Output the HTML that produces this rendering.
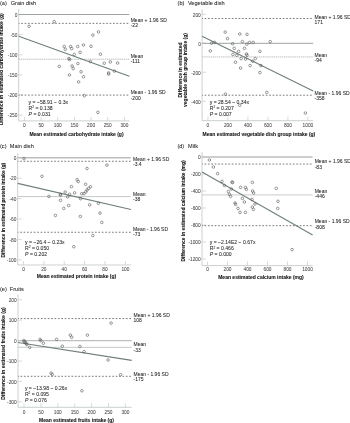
<!DOCTYPE html>
<html><head><meta charset="utf-8"><style>
html,body{margin:0;padding:0;background:#fff;width:350px;height:423px;overflow:hidden}
svg{display:block;filter:blur(0.3px)}
text{font-family:"Liberation Sans", sans-serif;fill:#262626;stroke:#262626;stroke-width:0.06px}
.tk{fill:#4a4a4a;stroke:#4a4a4a;stroke-width:0.05px}
.bl{fill:#151515;stroke:#151515;stroke-width:0.08px}
</style></head><body>
<svg width="350" height="423" viewBox="0 0 350 423">
<rect width="350" height="423" fill="#fff"/>
<text x="0.00" y="5.40" font-size="5.6" text-anchor="start" font-weight="normal" >(a)</text>
<text x="10.70" y="5.40" font-size="5.6" text-anchor="start" font-weight="normal" >Grain dish</text>
<path d="M18.70 9.00V120.90H129.40" stroke="#c4ccc9" stroke-width="0.9" fill="none"/>
<path d="M18.70 14.50h4" stroke="#c4ccc9" stroke-width="0.7"/>
<text x="17.40" y="16.70" font-size="4.8" text-anchor="end" font-weight="normal" class="tk">0</text>
<path d="M18.70 34.65h4" stroke="#c4ccc9" stroke-width="0.7"/>
<text x="17.40" y="36.85" font-size="4.8" text-anchor="end" font-weight="normal" class="tk">-50</text>
<path d="M18.70 54.80h4" stroke="#c4ccc9" stroke-width="0.7"/>
<text x="17.40" y="57.00" font-size="4.8" text-anchor="end" font-weight="normal" class="tk">-100</text>
<path d="M18.70 74.95h4" stroke="#c4ccc9" stroke-width="0.7"/>
<text x="17.40" y="77.15" font-size="4.8" text-anchor="end" font-weight="normal" class="tk">-150</text>
<path d="M18.70 95.10h4" stroke="#c4ccc9" stroke-width="0.7"/>
<text x="17.40" y="97.30" font-size="4.8" text-anchor="end" font-weight="normal" class="tk">-200</text>
<path d="M18.70 115.25h4" stroke="#c4ccc9" stroke-width="0.7"/>
<text x="17.40" y="117.45" font-size="4.8" text-anchor="end" font-weight="normal" class="tk">-250</text>
<path d="M24.40 120.90v-4" stroke="#c4ccc9" stroke-width="0.7"/>
<text x="24.40" y="127.20" font-size="4.8" text-anchor="middle" font-weight="normal" class="tk">0</text>
<path d="M41.06 120.90v-4" stroke="#c4ccc9" stroke-width="0.7"/>
<text x="41.06" y="127.20" font-size="4.8" text-anchor="middle" font-weight="normal" class="tk">50</text>
<path d="M57.73 120.90v-4" stroke="#c4ccc9" stroke-width="0.7"/>
<text x="57.73" y="127.20" font-size="4.8" text-anchor="middle" font-weight="normal" class="tk">100</text>
<path d="M74.39 120.90v-4" stroke="#c4ccc9" stroke-width="0.7"/>
<text x="74.39" y="127.20" font-size="4.8" text-anchor="middle" font-weight="normal" class="tk">150</text>
<path d="M91.06 120.90v-4" stroke="#c4ccc9" stroke-width="0.7"/>
<text x="91.06" y="127.20" font-size="4.8" text-anchor="middle" font-weight="normal" class="tk">200</text>
<path d="M107.72 120.90v-4" stroke="#c4ccc9" stroke-width="0.7"/>
<text x="107.72" y="127.20" font-size="4.8" text-anchor="middle" font-weight="normal" class="tk">250</text>
<path d="M124.39 120.90v-4" stroke="#c4ccc9" stroke-width="0.7"/>
<text x="124.39" y="127.20" font-size="4.8" text-anchor="middle" font-weight="normal" class="tk">300</text>
<path d="M18.70 14.50H129.40" stroke="#939a98" stroke-width="0.9"/>
<path d="M18.70 59.23H129.40" stroke="#b3b5b4" stroke-width="0.9" stroke-dasharray="1.4 0.7"/>
<path d="M18.70 23.37H129.40" stroke="#5a5a5a" stroke-width="0.8" stroke-dasharray="1.7 1.7" stroke-dashoffset="-2.5"/>
<path d="M18.70 95.10H129.40" stroke="#5a5a5a" stroke-width="0.8" stroke-dasharray="1.7 1.7" stroke-dashoffset="-2.5"/>
<path d="M18.70 36.17L129.40 76.33" stroke="#6e7f7b" stroke-width="1.1"/>
<circle cx="29.10" cy="26.30" r="1.3" stroke="#555555" stroke-width="0.6" fill="none"/>
<circle cx="54.20" cy="21.70" r="1.3" stroke="#555555" stroke-width="0.6" fill="none"/>
<circle cx="64.20" cy="46.50" r="1.3" stroke="#555555" stroke-width="0.6" fill="none"/>
<circle cx="65.30" cy="49.30" r="1.3" stroke="#555555" stroke-width="0.6" fill="none"/>
<circle cx="70.60" cy="46.50" r="1.3" stroke="#555555" stroke-width="0.6" fill="none"/>
<circle cx="71.70" cy="48.60" r="1.3" stroke="#555555" stroke-width="0.6" fill="none"/>
<circle cx="77.70" cy="46.50" r="1.3" stroke="#555555" stroke-width="0.6" fill="none"/>
<circle cx="83.50" cy="45.00" r="1.3" stroke="#555555" stroke-width="0.6" fill="none"/>
<circle cx="91.00" cy="46.30" r="1.3" stroke="#555555" stroke-width="0.6" fill="none"/>
<circle cx="92.90" cy="35.10" r="1.3" stroke="#555555" stroke-width="0.6" fill="none"/>
<circle cx="98.50" cy="31.90" r="1.3" stroke="#555555" stroke-width="0.6" fill="none"/>
<circle cx="80.10" cy="52.30" r="1.3" stroke="#555555" stroke-width="0.6" fill="none"/>
<circle cx="74.30" cy="54.40" r="1.3" stroke="#555555" stroke-width="0.6" fill="none"/>
<circle cx="100.40" cy="54.20" r="1.3" stroke="#555555" stroke-width="0.6" fill="none"/>
<circle cx="68.90" cy="58.50" r="1.3" stroke="#555555" stroke-width="0.6" fill="none"/>
<circle cx="69.60" cy="59.60" r="1.3" stroke="#555555" stroke-width="0.6" fill="none"/>
<circle cx="90.40" cy="61.50" r="1.3" stroke="#555555" stroke-width="0.6" fill="none"/>
<circle cx="59.30" cy="66.40" r="1.3" stroke="#555555" stroke-width="0.6" fill="none"/>
<circle cx="72.10" cy="66.00" r="1.3" stroke="#555555" stroke-width="0.6" fill="none"/>
<circle cx="73.20" cy="68.60" r="1.3" stroke="#555555" stroke-width="0.6" fill="none"/>
<circle cx="77.90" cy="63.60" r="1.3" stroke="#555555" stroke-width="0.6" fill="none"/>
<circle cx="104.30" cy="63.20" r="1.3" stroke="#555555" stroke-width="0.6" fill="none"/>
<circle cx="110.30" cy="61.90" r="1.3" stroke="#555555" stroke-width="0.6" fill="none"/>
<circle cx="117.60" cy="63.00" r="1.3" stroke="#555555" stroke-width="0.6" fill="none"/>
<circle cx="114.40" cy="71.10" r="1.3" stroke="#555555" stroke-width="0.6" fill="none"/>
<circle cx="108.60" cy="72.90" r="1.3" stroke="#555555" stroke-width="0.6" fill="none"/>
<circle cx="108.60" cy="74.10" r="1.3" stroke="#555555" stroke-width="0.6" fill="none"/>
<circle cx="81.10" cy="71.80" r="1.3" stroke="#555555" stroke-width="0.6" fill="none"/>
<circle cx="69.40" cy="75.00" r="1.3" stroke="#555555" stroke-width="0.6" fill="none"/>
<circle cx="83.50" cy="76.70" r="1.3" stroke="#555555" stroke-width="0.6" fill="none"/>
<circle cx="78.60" cy="81.90" r="1.3" stroke="#555555" stroke-width="0.6" fill="none"/>
<circle cx="84.30" cy="95.70" r="1.3" stroke="#555555" stroke-width="0.6" fill="none"/>
<circle cx="97.90" cy="112.40" r="1.3" stroke="#555555" stroke-width="0.6" fill="none"/>
<text x="130.70" y="22.10" font-size="5.0" text-anchor="start" font-weight="normal" >Mean + 1.96 SD</text>
<text x="130.70" y="27.40" font-size="5.0" text-anchor="start" font-weight="normal" >-22</text>
<text x="130.70" y="57.90" font-size="5.0" text-anchor="start" font-weight="normal" >Mean</text>
<text x="130.70" y="63.20" font-size="5.0" text-anchor="start" font-weight="normal" >-111</text>
<text x="130.70" y="94.30" font-size="5.0" text-anchor="start" font-weight="normal" >Mean - 1.96 SD</text>
<text x="130.70" y="99.60" font-size="5.0" text-anchor="start" font-weight="normal" >-200</text>
<text x="28.60" y="104.20" font-size="5.1" text-anchor="start" font-weight="normal" >y = −58.91 − 0.3x</text>
<text x="28.60" y="110.10" font-size="5.1" text-anchor="start" font-weight="normal" >R<tspan font-size="3.2" dy="-1.8">2</tspan><tspan dy="1.8"> = 0.138</tspan></text>
<text x="28.60" y="116.00" font-size="5.1" text-anchor="start" font-weight="normal" ><tspan font-style="italic">P</tspan> = 0.031</text>
<text x="76.50" y="135.60" font-size="5.0" text-anchor="middle" font-weight="bold" class="bl">Mean estimated carbohydrate intake (g)</text>
<text x="0.00" y="0.00" font-size="5.0" text-anchor="middle" font-weight="bold" class="bl" transform="translate(3.40 69.20) rotate(-90)">Difference in estimated carbohydrate intake (g)</text>
<text x="177.60" y="5.40" font-size="5.6" text-anchor="start" font-weight="normal" >(b)</text>
<text x="187.90" y="5.40" font-size="5.6" text-anchor="start" font-weight="normal" >Vegetable dish</text>
<path d="M202.10 9.40V120.70H313.20" stroke="#c4ccc9" stroke-width="0.9" fill="none"/>
<path d="M202.10 14.30h4" stroke="#c4ccc9" stroke-width="0.7"/>
<text x="200.80" y="16.50" font-size="4.8" text-anchor="end" font-weight="normal" class="tk">200</text>
<path d="M202.10 43.30h4" stroke="#c4ccc9" stroke-width="0.7"/>
<text x="200.80" y="45.50" font-size="4.8" text-anchor="end" font-weight="normal" class="tk">0</text>
<path d="M202.10 72.30h4" stroke="#c4ccc9" stroke-width="0.7"/>
<text x="200.80" y="74.50" font-size="4.8" text-anchor="end" font-weight="normal" class="tk">-200</text>
<path d="M202.10 101.30h4" stroke="#c4ccc9" stroke-width="0.7"/>
<text x="200.80" y="103.50" font-size="4.8" text-anchor="end" font-weight="normal" class="tk">-400</text>
<path d="M207.90 120.70v-4" stroke="#c4ccc9" stroke-width="0.7"/>
<text x="207.90" y="127.00" font-size="4.8" text-anchor="middle" font-weight="normal" class="tk">0</text>
<path d="M227.90 120.70v-4" stroke="#c4ccc9" stroke-width="0.7"/>
<text x="227.90" y="127.00" font-size="4.8" text-anchor="middle" font-weight="normal" class="tk">200</text>
<path d="M247.90 120.70v-4" stroke="#c4ccc9" stroke-width="0.7"/>
<text x="247.90" y="127.00" font-size="4.8" text-anchor="middle" font-weight="normal" class="tk">400</text>
<path d="M267.90 120.70v-4" stroke="#c4ccc9" stroke-width="0.7"/>
<text x="267.90" y="127.00" font-size="4.8" text-anchor="middle" font-weight="normal" class="tk">600</text>
<path d="M287.90 120.70v-4" stroke="#c4ccc9" stroke-width="0.7"/>
<text x="287.90" y="127.00" font-size="4.8" text-anchor="middle" font-weight="normal" class="tk">800</text>
<path d="M307.90 120.70v-4" stroke="#c4ccc9" stroke-width="0.7"/>
<text x="307.90" y="127.00" font-size="4.8" text-anchor="middle" font-weight="normal" class="tk">1000</text>
<path d="M202.10 43.30H313.20" stroke="#939a98" stroke-width="0.9"/>
<path d="M202.10 56.93H313.20" stroke="#b3b5b4" stroke-width="0.9" stroke-dasharray="1.4 0.7"/>
<path d="M202.10 18.50H313.20" stroke="#5a5a5a" stroke-width="0.8" stroke-dasharray="1.7 1.7" stroke-dashoffset="-2.5"/>
<path d="M202.10 95.21H313.20" stroke="#5a5a5a" stroke-width="0.8" stroke-dasharray="1.7 1.7" stroke-dashoffset="-2.5"/>
<path d="M202.10 36.30L313.20 91.07" stroke="#6e7f7b" stroke-width="1.1"/>
<circle cx="225.20" cy="32.10" r="1.3" stroke="#555555" stroke-width="0.6" fill="none"/>
<circle cx="227.50" cy="38.60" r="1.3" stroke="#555555" stroke-width="0.6" fill="none"/>
<circle cx="239.80" cy="34.00" r="1.3" stroke="#555555" stroke-width="0.6" fill="none"/>
<circle cx="247.00" cy="34.40" r="1.3" stroke="#555555" stroke-width="0.6" fill="none"/>
<circle cx="242.40" cy="41.60" r="1.3" stroke="#555555" stroke-width="0.6" fill="none"/>
<circle cx="249.60" cy="42.40" r="1.3" stroke="#555555" stroke-width="0.6" fill="none"/>
<circle cx="253.20" cy="42.40" r="1.3" stroke="#555555" stroke-width="0.6" fill="none"/>
<circle cx="246.80" cy="44.20" r="1.3" stroke="#555555" stroke-width="0.6" fill="none"/>
<circle cx="232.60" cy="43.70" r="1.3" stroke="#555555" stroke-width="0.6" fill="none"/>
<circle cx="270.20" cy="41.60" r="1.3" stroke="#555555" stroke-width="0.6" fill="none"/>
<circle cx="211.60" cy="43.20" r="1.3" stroke="#555555" stroke-width="0.6" fill="none"/>
<circle cx="214.70" cy="42.40" r="1.3" stroke="#555555" stroke-width="0.6" fill="none"/>
<circle cx="210.30" cy="50.90" r="1.3" stroke="#555555" stroke-width="0.6" fill="none"/>
<circle cx="234.20" cy="48.30" r="1.3" stroke="#555555" stroke-width="0.6" fill="none"/>
<circle cx="244.50" cy="48.30" r="1.3" stroke="#555555" stroke-width="0.6" fill="none"/>
<circle cx="238.60" cy="51.40" r="1.3" stroke="#555555" stroke-width="0.6" fill="none"/>
<circle cx="232.90" cy="54.50" r="1.3" stroke="#555555" stroke-width="0.6" fill="none"/>
<circle cx="236.80" cy="55.30" r="1.3" stroke="#555555" stroke-width="0.6" fill="none"/>
<circle cx="246.50" cy="54.00" r="1.3" stroke="#555555" stroke-width="0.6" fill="none"/>
<circle cx="247.00" cy="55.30" r="1.3" stroke="#555555" stroke-width="0.6" fill="none"/>
<circle cx="259.90" cy="51.40" r="1.3" stroke="#555555" stroke-width="0.6" fill="none"/>
<circle cx="241.10" cy="58.60" r="1.3" stroke="#555555" stroke-width="0.6" fill="none"/>
<circle cx="245.50" cy="59.10" r="1.3" stroke="#555555" stroke-width="0.6" fill="none"/>
<circle cx="255.30" cy="58.60" r="1.3" stroke="#555555" stroke-width="0.6" fill="none"/>
<circle cx="252.70" cy="61.20" r="1.3" stroke="#555555" stroke-width="0.6" fill="none"/>
<circle cx="235.50" cy="62.20" r="1.3" stroke="#555555" stroke-width="0.6" fill="none"/>
<circle cx="250.10" cy="65.60" r="1.3" stroke="#555555" stroke-width="0.6" fill="none"/>
<circle cx="260.90" cy="65.60" r="1.3" stroke="#555555" stroke-width="0.6" fill="none"/>
<circle cx="240.60" cy="68.10" r="1.3" stroke="#555555" stroke-width="0.6" fill="none"/>
<circle cx="259.90" cy="72.60" r="1.3" stroke="#555555" stroke-width="0.6" fill="none"/>
<circle cx="225.40" cy="94.20" r="1.3" stroke="#555555" stroke-width="0.6" fill="none"/>
<circle cx="266.80" cy="92.40" r="1.3" stroke="#555555" stroke-width="0.6" fill="none"/>
<circle cx="239.80" cy="105.30" r="1.3" stroke="#555555" stroke-width="0.6" fill="none"/>
<circle cx="305.40" cy="113.10" r="1.3" stroke="#555555" stroke-width="0.6" fill="none"/>
<text x="314.60" y="18.70" font-size="5.0" text-anchor="start" font-weight="normal" >Mean + 1.96 SD</text>
<text x="314.60" y="24.00" font-size="5.0" text-anchor="start" font-weight="normal" >171</text>
<text x="314.60" y="57.10" font-size="5.0" text-anchor="start" font-weight="normal" >Mean</text>
<text x="314.60" y="62.40" font-size="5.0" text-anchor="start" font-weight="normal" >-94</text>
<text x="314.60" y="94.90" font-size="5.0" text-anchor="start" font-weight="normal" >Mean - 1.96 SD</text>
<text x="314.60" y="100.20" font-size="5.0" text-anchor="start" font-weight="normal" >-358</text>
<text x="209.70" y="104.00" font-size="5.1" text-anchor="start" font-weight="normal" >y = 28.54 − 0.34x</text>
<text x="209.70" y="109.90" font-size="5.1" text-anchor="start" font-weight="normal" >R<tspan font-size="3.2" dy="-1.8">2</tspan><tspan dy="1.8"> = 0.207</tspan></text>
<text x="209.70" y="115.80" font-size="5.1" text-anchor="start" font-weight="normal" ><tspan font-style="italic">P</tspan> = 0.007</text>
<text x="258.90" y="135.90" font-size="5.0" text-anchor="middle" font-weight="bold" class="bl">Mean estimated vegetable dish group intake (g)</text>
<text x="0.00" y="0.00" font-size="5.0" text-anchor="middle" font-weight="bold" class="bl" transform="translate(181.80 70.00) rotate(-90)">Difference in estimated</text>
<text x="0.00" y="0.00" font-size="5.0" text-anchor="middle" font-weight="bold" class="bl" transform="translate(187.30 70.00) rotate(-90)">vegetable dish group intake (g)</text>
<text x="0.00" y="148.40" font-size="5.6" text-anchor="start" font-weight="normal" >(c)</text>
<text x="9.80" y="148.40" font-size="5.6" text-anchor="start" font-weight="normal" >Main dish</text>
<path d="M17.70 153.40V265.00H130.90" stroke="#c4ccc9" stroke-width="0.9" fill="none"/>
<path d="M17.70 157.80h4" stroke="#c4ccc9" stroke-width="0.7"/>
<text x="16.40" y="160.00" font-size="4.8" text-anchor="end" font-weight="normal" class="tk">0</text>
<path d="M17.70 178.20h4" stroke="#c4ccc9" stroke-width="0.7"/>
<text x="16.40" y="180.40" font-size="4.8" text-anchor="end" font-weight="normal" class="tk">-20</text>
<path d="M17.70 198.60h4" stroke="#c4ccc9" stroke-width="0.7"/>
<text x="16.40" y="200.80" font-size="4.8" text-anchor="end" font-weight="normal" class="tk">-40</text>
<path d="M17.70 219.00h4" stroke="#c4ccc9" stroke-width="0.7"/>
<text x="16.40" y="221.20" font-size="4.8" text-anchor="end" font-weight="normal" class="tk">-60</text>
<path d="M17.70 239.40h4" stroke="#c4ccc9" stroke-width="0.7"/>
<text x="16.40" y="241.60" font-size="4.8" text-anchor="end" font-weight="normal" class="tk">-80</text>
<path d="M17.70 259.80h4" stroke="#c4ccc9" stroke-width="0.7"/>
<text x="16.40" y="262.00" font-size="4.8" text-anchor="end" font-weight="normal" class="tk">-100</text>
<path d="M23.50 265.00v-4" stroke="#c4ccc9" stroke-width="0.7"/>
<text x="23.50" y="271.30" font-size="4.8" text-anchor="middle" font-weight="normal" class="tk">0</text>
<path d="M43.88 265.00v-4" stroke="#c4ccc9" stroke-width="0.7"/>
<text x="43.88" y="271.30" font-size="4.8" text-anchor="middle" font-weight="normal" class="tk">20</text>
<path d="M64.26 265.00v-4" stroke="#c4ccc9" stroke-width="0.7"/>
<text x="64.26" y="271.30" font-size="4.8" text-anchor="middle" font-weight="normal" class="tk">40</text>
<path d="M84.64 265.00v-4" stroke="#c4ccc9" stroke-width="0.7"/>
<text x="84.64" y="271.30" font-size="4.8" text-anchor="middle" font-weight="normal" class="tk">60</text>
<path d="M105.02 265.00v-4" stroke="#c4ccc9" stroke-width="0.7"/>
<text x="105.02" y="271.30" font-size="4.8" text-anchor="middle" font-weight="normal" class="tk">80</text>
<path d="M125.40 265.00v-4" stroke="#c4ccc9" stroke-width="0.7"/>
<text x="125.40" y="271.30" font-size="4.8" text-anchor="middle" font-weight="normal" class="tk">100</text>
<path d="M17.70 157.80H130.90" stroke="#bcbfbe" stroke-width="1.4"/>
<path d="M17.70 196.56H130.90" stroke="#c2c4c3" stroke-width="0.9" />
<path d="M17.70 161.27H130.90" stroke="#5a5a5a" stroke-width="0.8" stroke-dasharray="1.7 1.7" stroke-dashoffset="-2.5"/>
<path d="M17.70 232.26H130.90" stroke="#5a5a5a" stroke-width="0.8" stroke-dasharray="1.7 1.7" stroke-dashoffset="-2.5"/>
<path d="M17.70 183.39L130.90 209.45" stroke="#6e7f7b" stroke-width="1.1"/>
<circle cx="24.00" cy="158.60" r="1.3" stroke="#555555" stroke-width="0.6" fill="none"/>
<circle cx="42.00" cy="176.30" r="1.3" stroke="#555555" stroke-width="0.6" fill="none"/>
<circle cx="87.00" cy="168.50" r="1.3" stroke="#555555" stroke-width="0.6" fill="none"/>
<circle cx="106.90" cy="165.10" r="1.3" stroke="#555555" stroke-width="0.6" fill="none"/>
<circle cx="77.10" cy="179.70" r="1.3" stroke="#555555" stroke-width="0.6" fill="none"/>
<circle cx="78.30" cy="181.60" r="1.3" stroke="#555555" stroke-width="0.6" fill="none"/>
<circle cx="85.60" cy="184.30" r="1.3" stroke="#555555" stroke-width="0.6" fill="none"/>
<circle cx="71.40" cy="186.60" r="1.3" stroke="#555555" stroke-width="0.6" fill="none"/>
<circle cx="90.40" cy="186.80" r="1.3" stroke="#555555" stroke-width="0.6" fill="none"/>
<circle cx="88.60" cy="188.40" r="1.3" stroke="#555555" stroke-width="0.6" fill="none"/>
<circle cx="87.00" cy="190.00" r="1.3" stroke="#555555" stroke-width="0.6" fill="none"/>
<circle cx="85.80" cy="191.90" r="1.3" stroke="#555555" stroke-width="0.6" fill="none"/>
<circle cx="84.00" cy="193.70" r="1.3" stroke="#555555" stroke-width="0.6" fill="none"/>
<circle cx="81.70" cy="193.70" r="1.3" stroke="#555555" stroke-width="0.6" fill="none"/>
<circle cx="74.60" cy="192.90" r="1.3" stroke="#555555" stroke-width="0.6" fill="none"/>
<circle cx="65.20" cy="192.10" r="1.3" stroke="#555555" stroke-width="0.6" fill="none"/>
<circle cx="69.50" cy="194.30" r="1.3" stroke="#555555" stroke-width="0.6" fill="none"/>
<circle cx="67.70" cy="196.90" r="1.3" stroke="#555555" stroke-width="0.6" fill="none"/>
<circle cx="60.50" cy="194.30" r="1.3" stroke="#555555" stroke-width="0.6" fill="none"/>
<circle cx="60.50" cy="195.20" r="1.3" stroke="#555555" stroke-width="0.6" fill="none"/>
<circle cx="48.90" cy="196.40" r="1.3" stroke="#555555" stroke-width="0.6" fill="none"/>
<circle cx="80.60" cy="198.70" r="1.3" stroke="#555555" stroke-width="0.6" fill="none"/>
<circle cx="60.50" cy="200.30" r="1.3" stroke="#555555" stroke-width="0.6" fill="none"/>
<circle cx="68.60" cy="205.50" r="1.3" stroke="#555555" stroke-width="0.6" fill="none"/>
<circle cx="63.80" cy="208.40" r="1.3" stroke="#555555" stroke-width="0.6" fill="none"/>
<circle cx="89.70" cy="204.90" r="1.3" stroke="#555555" stroke-width="0.6" fill="none"/>
<circle cx="98.40" cy="203.30" r="1.3" stroke="#555555" stroke-width="0.6" fill="none"/>
<circle cx="100.00" cy="213.10" r="1.3" stroke="#555555" stroke-width="0.6" fill="none"/>
<circle cx="55.40" cy="215.40" r="1.3" stroke="#555555" stroke-width="0.6" fill="none"/>
<circle cx="80.40" cy="216.40" r="1.3" stroke="#555555" stroke-width="0.6" fill="none"/>
<circle cx="101.80" cy="222.40" r="1.3" stroke="#555555" stroke-width="0.6" fill="none"/>
<circle cx="92.90" cy="235.50" r="1.3" stroke="#555555" stroke-width="0.6" fill="none"/>
<circle cx="73.80" cy="246.70" r="1.3" stroke="#555555" stroke-width="0.6" fill="none"/>
<text x="133.00" y="161.10" font-size="5.0" text-anchor="start" font-weight="normal" >Mean + 1.96 SD</text>
<text x="133.00" y="166.40" font-size="5.0" text-anchor="start" font-weight="normal" >-3.4</text>
<text x="133.00" y="195.70" font-size="5.0" text-anchor="start" font-weight="normal" >Mean</text>
<text x="133.00" y="201.00" font-size="5.0" text-anchor="start" font-weight="normal" >-38</text>
<text x="133.00" y="230.90" font-size="5.0" text-anchor="start" font-weight="normal" >Mean - 1.96 SD</text>
<text x="133.00" y="236.20" font-size="5.0" text-anchor="start" font-weight="normal" >-73</text>
<text x="25.10" y="244.30" font-size="5.1" text-anchor="start" font-weight="normal" >y = −26.4 − 0.23x</text>
<text x="25.10" y="250.20" font-size="5.1" text-anchor="start" font-weight="normal" >R<tspan font-size="3.2" dy="-1.8">2</tspan><tspan dy="1.8"> = 0.050</tspan></text>
<text x="25.10" y="256.10" font-size="5.1" text-anchor="start" font-weight="normal" ><tspan font-style="italic">P</tspan> = 0.202</text>
<text x="76.50" y="277.80" font-size="5.0" text-anchor="middle" font-weight="bold" class="bl">Mean estimated protein intake (g)</text>
<text x="0.00" y="0.00" font-size="4.9" text-anchor="middle" font-weight="bold" class="bl" transform="translate(4.90 210.20) rotate(-90)">Difference in estimated protein intake (g)</text>
<text x="177.40" y="148.40" font-size="5.6" text-anchor="start" font-weight="normal" >(d)</text>
<text x="188.00" y="148.40" font-size="5.6" text-anchor="start" font-weight="normal" >Milk</text>
<path d="M202.00 152.00V265.60H312.60" stroke="#c4ccc9" stroke-width="0.9" fill="none"/>
<path d="M202.00 157.00h4" stroke="#c4ccc9" stroke-width="0.7"/>
<text x="200.70" y="159.20" font-size="4.8" text-anchor="end" font-weight="normal" class="tk">0</text>
<path d="M202.00 174.00h4" stroke="#c4ccc9" stroke-width="0.7"/>
<text x="200.70" y="176.20" font-size="4.8" text-anchor="end" font-weight="normal" class="tk">-200</text>
<path d="M202.00 191.00h4" stroke="#c4ccc9" stroke-width="0.7"/>
<text x="200.70" y="193.20" font-size="4.8" text-anchor="end" font-weight="normal" class="tk">-400</text>
<path d="M202.00 208.00h4" stroke="#c4ccc9" stroke-width="0.7"/>
<text x="200.70" y="210.20" font-size="4.8" text-anchor="end" font-weight="normal" class="tk">-600</text>
<path d="M202.00 225.00h4" stroke="#c4ccc9" stroke-width="0.7"/>
<text x="200.70" y="227.20" font-size="4.8" text-anchor="end" font-weight="normal" class="tk">-800</text>
<path d="M202.00 242.00h4" stroke="#c4ccc9" stroke-width="0.7"/>
<text x="200.70" y="244.20" font-size="4.8" text-anchor="end" font-weight="normal" class="tk">-1000</text>
<path d="M202.00 259.00h4" stroke="#c4ccc9" stroke-width="0.7"/>
<text x="200.70" y="261.20" font-size="4.8" text-anchor="end" font-weight="normal" class="tk">-1200</text>
<path d="M207.50 265.60v-4" stroke="#c4ccc9" stroke-width="0.7"/>
<text x="207.50" y="271.30" font-size="4.8" text-anchor="middle" font-weight="normal" class="tk">0</text>
<path d="M227.50 265.60v-4" stroke="#c4ccc9" stroke-width="0.7"/>
<text x="227.50" y="271.30" font-size="4.8" text-anchor="middle" font-weight="normal" class="tk">200</text>
<path d="M247.50 265.60v-4" stroke="#c4ccc9" stroke-width="0.7"/>
<text x="247.50" y="271.30" font-size="4.8" text-anchor="middle" font-weight="normal" class="tk">400</text>
<path d="M267.50 265.60v-4" stroke="#c4ccc9" stroke-width="0.7"/>
<text x="267.50" y="271.30" font-size="4.8" text-anchor="middle" font-weight="normal" class="tk">600</text>
<path d="M287.50 265.60v-4" stroke="#c4ccc9" stroke-width="0.7"/>
<text x="287.50" y="271.30" font-size="4.8" text-anchor="middle" font-weight="normal" class="tk">800</text>
<path d="M307.50 265.60v-4" stroke="#c4ccc9" stroke-width="0.7"/>
<text x="307.50" y="271.30" font-size="4.8" text-anchor="middle" font-weight="normal" class="tk">1000</text>
<path d="M202.00 157.00H312.60" stroke="#bcbfbe" stroke-width="1.4"/>
<path d="M202.00 194.91H312.60" stroke="#c2c4c3" stroke-width="0.9" />
<path d="M202.00 164.06H312.60" stroke="#5a5a5a" stroke-width="0.8" stroke-dasharray="1.7 1.7" stroke-dashoffset="-2.5"/>
<path d="M202.00 225.68H312.60" stroke="#5a5a5a" stroke-width="0.8" stroke-dasharray="1.7 1.7" stroke-dashoffset="-2.5"/>
<path d="M202.00 172.06L312.60 235.04" stroke="#6e7f7b" stroke-width="1.1"/>
<circle cx="209.40" cy="160.00" r="1.3" stroke="#555555" stroke-width="0.6" fill="none"/>
<circle cx="213.40" cy="167.00" r="1.3" stroke="#555555" stroke-width="0.6" fill="none"/>
<circle cx="217.60" cy="173.60" r="1.3" stroke="#555555" stroke-width="0.6" fill="none"/>
<circle cx="222.00" cy="181.40" r="1.3" stroke="#555555" stroke-width="0.6" fill="none"/>
<circle cx="224.40" cy="185.40" r="1.3" stroke="#555555" stroke-width="0.6" fill="none"/>
<circle cx="232.00" cy="182.00" r="1.3" stroke="#555555" stroke-width="0.6" fill="none"/>
<circle cx="232.60" cy="182.60" r="1.3" stroke="#555555" stroke-width="0.6" fill="none"/>
<circle cx="231.40" cy="189.00" r="1.3" stroke="#555555" stroke-width="0.6" fill="none"/>
<circle cx="240.60" cy="187.40" r="1.3" stroke="#555555" stroke-width="0.6" fill="none"/>
<circle cx="245.40" cy="187.40" r="1.3" stroke="#555555" stroke-width="0.6" fill="none"/>
<circle cx="246.40" cy="189.40" r="1.3" stroke="#555555" stroke-width="0.6" fill="none"/>
<circle cx="252.40" cy="182.40" r="1.3" stroke="#555555" stroke-width="0.6" fill="none"/>
<circle cx="252.60" cy="191.00" r="1.3" stroke="#555555" stroke-width="0.6" fill="none"/>
<circle cx="253.60" cy="193.00" r="1.3" stroke="#555555" stroke-width="0.6" fill="none"/>
<circle cx="228.40" cy="191.60" r="1.3" stroke="#555555" stroke-width="0.6" fill="none"/>
<circle cx="229.40" cy="194.40" r="1.3" stroke="#555555" stroke-width="0.6" fill="none"/>
<circle cx="230.60" cy="196.40" r="1.3" stroke="#555555" stroke-width="0.6" fill="none"/>
<circle cx="242.40" cy="198.40" r="1.3" stroke="#555555" stroke-width="0.6" fill="none"/>
<circle cx="244.40" cy="202.00" r="1.3" stroke="#555555" stroke-width="0.6" fill="none"/>
<circle cx="252.00" cy="199.40" r="1.3" stroke="#555555" stroke-width="0.6" fill="none"/>
<circle cx="255.00" cy="204.00" r="1.3" stroke="#555555" stroke-width="0.6" fill="none"/>
<circle cx="235.00" cy="203.00" r="1.3" stroke="#555555" stroke-width="0.6" fill="none"/>
<circle cx="235.60" cy="204.40" r="1.3" stroke="#555555" stroke-width="0.6" fill="none"/>
<circle cx="238.00" cy="208.40" r="1.3" stroke="#555555" stroke-width="0.6" fill="none"/>
<circle cx="240.00" cy="212.40" r="1.3" stroke="#555555" stroke-width="0.6" fill="none"/>
<circle cx="245.40" cy="212.40" r="1.3" stroke="#555555" stroke-width="0.6" fill="none"/>
<circle cx="252.40" cy="207.00" r="1.3" stroke="#555555" stroke-width="0.6" fill="none"/>
<circle cx="253.40" cy="209.40" r="1.3" stroke="#555555" stroke-width="0.6" fill="none"/>
<circle cx="276.30" cy="188.40" r="1.3" stroke="#555555" stroke-width="0.6" fill="none"/>
<circle cx="278.00" cy="201.30" r="1.3" stroke="#555555" stroke-width="0.6" fill="none"/>
<circle cx="277.70" cy="208.40" r="1.3" stroke="#555555" stroke-width="0.6" fill="none"/>
<circle cx="292.10" cy="249.60" r="1.3" stroke="#555555" stroke-width="0.6" fill="none"/>
<text x="314.70" y="163.20" font-size="5.0" text-anchor="start" font-weight="normal" >Mean + 1.96 SD</text>
<text x="314.70" y="168.50" font-size="5.0" text-anchor="start" font-weight="normal" >-83</text>
<text x="314.70" y="192.60" font-size="5.0" text-anchor="start" font-weight="normal" >Mean</text>
<text x="314.70" y="197.90" font-size="5.0" text-anchor="start" font-weight="normal" >-446</text>
<text x="314.70" y="223.40" font-size="5.0" text-anchor="start" font-weight="normal" >Mean - 1.96 SD</text>
<text x="314.70" y="228.70" font-size="5.0" text-anchor="start" font-weight="normal" >-808</text>
<text x="209.70" y="244.40" font-size="5.1" text-anchor="start" font-weight="normal" >y = −2.14E2 − 0.67x</text>
<text x="209.70" y="250.30" font-size="5.1" text-anchor="start" font-weight="normal" >R<tspan font-size="3.2" dy="-1.8">2</tspan><tspan dy="1.8"> = 0.466</tspan></text>
<text x="209.70" y="256.20" font-size="5.1" text-anchor="start" font-weight="normal" ><tspan font-style="italic">P</tspan> = 0.000</text>
<text x="261.00" y="279.40" font-size="5.0" text-anchor="middle" font-weight="bold" class="bl">Mean estimated calcium intake (mg)</text>
<text x="0.00" y="0.00" font-size="4.93" text-anchor="middle" font-weight="bold" class="bl" transform="translate(185.00 211.00) rotate(-90)">Difference in estimated calcium intake (mg)</text>
<text x="0.00" y="290.70" font-size="5.6" text-anchor="start" font-weight="normal" >(e)</text>
<text x="9.80" y="290.70" font-size="5.6" text-anchor="start" font-weight="normal" >Fruits</text>
<path d="M18.00 294.60V407.30H131.70" stroke="#c4ccc9" stroke-width="0.9" fill="none"/>
<path d="M18.00 299.80h4" stroke="#c4ccc9" stroke-width="0.7"/>
<text x="16.70" y="302.00" font-size="4.8" text-anchor="end" font-weight="normal" class="tk">200</text>
<path d="M18.00 320.20h4" stroke="#c4ccc9" stroke-width="0.7"/>
<text x="16.70" y="322.40" font-size="4.8" text-anchor="end" font-weight="normal" class="tk">100</text>
<path d="M18.00 340.60h4" stroke="#c4ccc9" stroke-width="0.7"/>
<text x="16.70" y="342.80" font-size="4.8" text-anchor="end" font-weight="normal" class="tk">0</text>
<path d="M18.00 361.00h4" stroke="#c4ccc9" stroke-width="0.7"/>
<text x="16.70" y="363.20" font-size="4.8" text-anchor="end" font-weight="normal" class="tk">-100</text>
<path d="M18.00 381.40h4" stroke="#c4ccc9" stroke-width="0.7"/>
<text x="16.70" y="383.60" font-size="4.8" text-anchor="end" font-weight="normal" class="tk">-200</text>
<path d="M18.00 401.80h4" stroke="#c4ccc9" stroke-width="0.7"/>
<text x="16.70" y="404.00" font-size="4.8" text-anchor="end" font-weight="normal" class="tk">-300</text>
<path d="M24.00 407.30v-4" stroke="#c4ccc9" stroke-width="0.7"/>
<text x="24.00" y="413.60" font-size="4.8" text-anchor="middle" font-weight="normal" class="tk">0</text>
<path d="M40.90 407.30v-4" stroke="#c4ccc9" stroke-width="0.7"/>
<text x="40.90" y="413.60" font-size="4.8" text-anchor="middle" font-weight="normal" class="tk">50</text>
<path d="M57.80 407.30v-4" stroke="#c4ccc9" stroke-width="0.7"/>
<text x="57.80" y="413.60" font-size="4.8" text-anchor="middle" font-weight="normal" class="tk">100</text>
<path d="M74.70 407.30v-4" stroke="#c4ccc9" stroke-width="0.7"/>
<text x="74.70" y="413.60" font-size="4.8" text-anchor="middle" font-weight="normal" class="tk">150</text>
<path d="M91.60 407.30v-4" stroke="#c4ccc9" stroke-width="0.7"/>
<text x="91.60" y="413.60" font-size="4.8" text-anchor="middle" font-weight="normal" class="tk">200</text>
<path d="M108.50 407.30v-4" stroke="#c4ccc9" stroke-width="0.7"/>
<text x="108.50" y="413.60" font-size="4.8" text-anchor="middle" font-weight="normal" class="tk">250</text>
<path d="M125.40 407.30v-4" stroke="#c4ccc9" stroke-width="0.7"/>
<text x="125.40" y="413.60" font-size="4.8" text-anchor="middle" font-weight="normal" class="tk">300</text>
<path d="M18.00 340.60H131.70" stroke="#bcbfbe" stroke-width="1.4"/>
<path d="M18.00 347.33H131.70" stroke="#c2c4c3" stroke-width="0.9" />
<path d="M18.00 318.57H131.70" stroke="#5a5a5a" stroke-width="0.8" stroke-dasharray="1.7 1.7" stroke-dashoffset="-2.5"/>
<path d="M18.00 376.30H131.70" stroke="#5a5a5a" stroke-width="0.8" stroke-dasharray="1.7 1.7" stroke-dashoffset="-2.5"/>
<path d="M18.00 342.51L131.70 360.35" stroke="#6e7f7b" stroke-width="1.1"/>
<circle cx="23.70" cy="340.60" r="1.3" stroke="#555555" stroke-width="0.6" fill="none"/>
<circle cx="24.50" cy="341.40" r="1.3" stroke="#555555" stroke-width="0.6" fill="none"/>
<circle cx="25.20" cy="342.30" r="1.3" stroke="#555555" stroke-width="0.6" fill="none"/>
<circle cx="26.20" cy="343.50" r="1.3" stroke="#555555" stroke-width="0.6" fill="none"/>
<circle cx="26.90" cy="344.50" r="1.3" stroke="#555555" stroke-width="0.6" fill="none"/>
<circle cx="29.70" cy="347.40" r="1.3" stroke="#555555" stroke-width="0.6" fill="none"/>
<circle cx="40.00" cy="339.40" r="1.3" stroke="#555555" stroke-width="0.6" fill="none"/>
<circle cx="40.80" cy="340.60" r="1.3" stroke="#555555" stroke-width="0.6" fill="none"/>
<circle cx="43.40" cy="343.20" r="1.3" stroke="#555555" stroke-width="0.6" fill="none"/>
<circle cx="56.60" cy="339.40" r="1.3" stroke="#555555" stroke-width="0.6" fill="none"/>
<circle cx="62.30" cy="346.20" r="1.3" stroke="#555555" stroke-width="0.6" fill="none"/>
<circle cx="70.30" cy="335.10" r="1.3" stroke="#555555" stroke-width="0.6" fill="none"/>
<circle cx="71.70" cy="337.20" r="1.3" stroke="#555555" stroke-width="0.6" fill="none"/>
<circle cx="51.10" cy="373.20" r="1.3" stroke="#555555" stroke-width="0.6" fill="none"/>
<circle cx="52.30" cy="374.50" r="1.3" stroke="#555555" stroke-width="0.6" fill="none"/>
<circle cx="111.10" cy="323.10" r="1.3" stroke="#555555" stroke-width="0.6" fill="none"/>
<circle cx="87.40" cy="335.10" r="1.3" stroke="#555555" stroke-width="0.6" fill="none"/>
<circle cx="79.90" cy="346.50" r="1.3" stroke="#555555" stroke-width="0.6" fill="none"/>
<circle cx="84.10" cy="351.60" r="1.3" stroke="#555555" stroke-width="0.6" fill="none"/>
<circle cx="108.10" cy="360.00" r="1.3" stroke="#555555" stroke-width="0.6" fill="none"/>
<circle cx="120.60" cy="374.70" r="1.3" stroke="#555555" stroke-width="0.6" fill="none"/>
<circle cx="81.90" cy="390.80" r="1.3" stroke="#555555" stroke-width="0.6" fill="none"/>
<text x="133.50" y="316.60" font-size="5.0" text-anchor="start" font-weight="normal" >Mean + 1.96 SD</text>
<text x="133.50" y="321.90" font-size="5.0" text-anchor="start" font-weight="normal" >108</text>
<text x="133.50" y="346.20" font-size="5.0" text-anchor="start" font-weight="normal" >Mean</text>
<text x="133.50" y="351.50" font-size="5.0" text-anchor="start" font-weight="normal" >-33</text>
<text x="133.50" y="375.70" font-size="5.0" text-anchor="start" font-weight="normal" >Mean - 1.96 SD</text>
<text x="133.50" y="381.00" font-size="5.0" text-anchor="start" font-weight="normal" >-175</text>
<text x="24.90" y="389.90" font-size="5.1" text-anchor="start" font-weight="normal" >y = −13.98 − 0.26x</text>
<text x="24.90" y="395.80" font-size="5.1" text-anchor="start" font-weight="normal" >R<tspan font-size="3.2" dy="-1.8">2</tspan><tspan dy="1.8"> = 0.095</tspan></text>
<text x="24.90" y="401.70" font-size="5.1" text-anchor="start" font-weight="normal" ><tspan font-style="italic">P</tspan> = 0.076</text>
<text x="76.50" y="422.10" font-size="5.0" text-anchor="middle" font-weight="bold" class="bl">Mean estimated fruits intake (g)</text>
<text x="0.00" y="0.00" font-size="5.0" text-anchor="middle" font-weight="bold" class="bl" transform="translate(4.50 353.60) rotate(-90)">Difference in estimated fruits intake (g)</text>
</svg></body></html>
